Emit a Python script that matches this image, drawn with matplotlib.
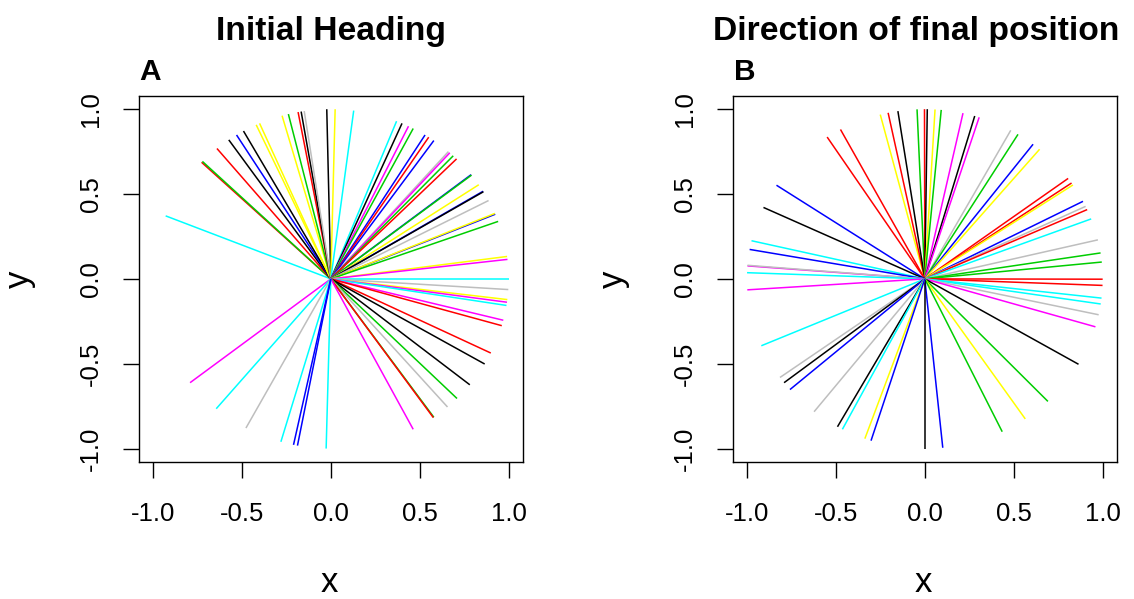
import numpy as np
import matplotlib
matplotlib.use("Agg")
import matplotlib.pyplot as plt

plt.rcParams["font.family"] = ["Liberation Sans", "DejaVu Sans"]

# R default palette
PAL = {
    "black": "#000000",
    "red": "#FF0000",
    "green": "#00CD00",
    "blue": "#0000FF",
    "cyan": "#00FFFF",
    "magenta": "#FF00FF",
    "yellow": "#FFFF00",
    "gray": "#BEBEBE",
}

# panel A: initial headings (degrees, counter-clockwise from +x)
heading_a = [
    158.2, 136.6, 136.2, 129.8, 125.0, 122.0, 119.4, 114.8, 113.6, 105.9,
    103.8, 100.6, 99.6, 98.6, 91.3, 88.6,
    82.6, 68.3, 66.4, 64.1, 62.4, 58.0, 56.6, 54.6, 48.6, 48.0,
    46.5, 45.0, 37.9, 37.7, 33.7, 31.1, 30.9, 27.5, 22.4, 22.7,
    19.8, 7.6, 6.6, 0.0,
    -3.6, -7.0, -7.9, -9.0, -14.1, -16.0, -25.9, -30.1, -38.6, -44.8,
    -49.0, -54.6, -54.8, -62.4, -91.5,
    -142.3, -130.1, -118.5, -106.3, -102.1, -100.8,
]
colour_a = [
    "cyan", "red", "green", "red", "black", "blue", "black", "yellow", "yellow", "yellow",
    "green", "red", "black", "gray", "black", "yellow",
    "cyan", "cyan", "black", "magenta", "green", "blue", "red", "blue", "gray", "magenta",
    "green", "red", "blue", "green", "yellow", "blue", "black", "gray", "blue", "yellow",
    "green", "yellow", "magenta", "cyan",
    "gray", "yellow", "magenta", "cyan", "magenta", "red", "red", "black", "black", "green",
    "gray", "green", "red", "magenta", "cyan",
    "magenta", "cyan", "gray", "cyan", "blue", "blue",
]

# panel B: direction of final position (degrees)
heading_b = [
    104.5, 101.9, 98.7, 92.5, 90.1, 89.2, 86.7, 84.7, 77.6, 73.7,
    72.2, 61.1, 58.4, 52.5, 49.8, 36.3, 34.4, 33.6, 27.2, 25.3,
    24.1, 20.7, 13.3, 8.8, 5.7,
    118.3, 123.3, 146.5, 155.1, 167.0, 170.0, 175.6, 175.4, 177.9,
    -0.1, -2.2, -6.5, -8.5, -12.2, -16.4, -30.2, -46.2, -55.6, -64.2,
    -84.2, -90.0,
    -176.3, -156.8, -144.5, -142.3, -139.3, -128.5, -119.4, -117.6, -109.7, -107.6,
]
colour_b = [
    "yellow", "red", "black", "green", "red", "black", "yellow", "green", "magenta", "black",
    "magenta", "gray", "green", "blue", "yellow", "red", "red", "yellow", "blue", "gray",
    "red", "cyan", "gray", "green", "green",
    "red", "red", "blue", "black", "cyan", "blue", "magenta", "gray", "cyan",
    "red", "red", "cyan", "cyan", "gray", "magenta", "black", "green", "yellow", "green",
    "blue", "black",
    "magenta", "cyan", "gray", "black", "blue", "gray", "black", "cyan", "yellow", "blue",
]

ticks = [-1.0, -0.5, 0.0, 0.5, 1.0]
tick_labels = ["-1.0", "-0.5", "0.0", "0.5", "1.0"]

W, H = 1134, 599
fig = plt.figure(figsize=(W / 100, H / 100), dpi=100)


def panel(left_px, headings, colours, title, title_x, letter):
    ax = fig.add_axes([left_px / W, 1 - 462.2 / H, 384.2 / W, 366.6 / H])
    th = np.deg2rad(np.array(headings))
    for t, c in zip(th, colours):
        ax.plot([0, np.cos(t)], [0, np.sin(t)], color=PAL[c], lw=1.1, solid_capstyle="butt")
    ax.set_xlim(-1.08, 1.08)
    ax.set_ylim(-1.08, 1.08)
    ax.set_xticks(ticks)
    ax.set_xticklabels(tick_labels)
    ax.set_yticks(ticks)
    ax.set_yticklabels(tick_labels, rotation=90, va="center")
    ax.tick_params(direction="out", length=11.5, width=1.0, labelsize=18.5)
    ax.tick_params(axis="x", pad=17)
    ax.tick_params(axis="y", pad=14)
    for s in ax.spines.values():
        s.set_linewidth(1.0)
    fig.text(title_x / W, 1 - 40 / H, title, ha="center", va="baseline",
             fontsize=24.2, fontweight="bold")
    fig.text((left_px + 1) / W, 1 - 80 / H, letter, ha="left", va="baseline",
             fontsize=21.5, fontweight="bold")
    fig.text((left_px + 191) / W, 1 - 591.5 / H, "x", ha="center", va="baseline", fontsize=25)
    fig.text((left_px - 110) / W, 1 - 279 / H, "y", ha="center", va="baseline",
             rotation=90, rotation_mode="anchor", fontsize=25)
    return ax


panel(138.7, heading_a, colour_a, "Initial Heading", 331, "A")
panel(732.7, heading_b, colour_b, "Direction of final position", 916.5, "B")

fig.savefig("out.png", dpi=100)
